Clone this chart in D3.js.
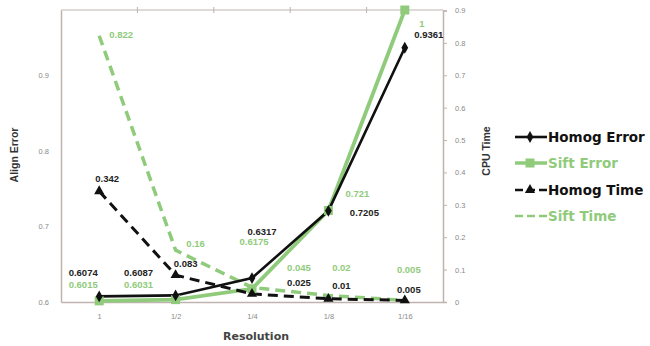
<!DOCTYPE html>
<html><head><meta charset="utf-8">
<script src="https://cdn.jsdelivr.net/npm/d3@7"></script>
<style>body{margin:0;background:#fff}svg{display:block}</style>
</head><body><svg id="c" width="650" height="346"></svg>
<script>
const categories = ["1","1/2","1/4","1/8","1/16"];
const homogError = [0.6074, 0.6087, 0.6317, 0.7205, 0.9361];
const siftError  = [0.6015, 0.6031, 0.6175, 0.721, 1];
const homogTime  = [0.342, 0.083, 0.025, 0.01, 0.005];
const siftTime   = [0.822, 0.16, 0.045, 0.02, 0.005];
const leftTicks  = [0.6, 0.7, 0.8, 0.9];
const rightTicks = [0, 0.1, 0.2, 0.3, 0.4, 0.5, 0.6, 0.7, 0.8, 0.9];
const seriesNames = ["Homog Error","Sift Error","Homog Time","Sift Time"];

const GREEN = "#8fcb7b", BLACK = "#111", AXIS = "#bfb3b0", TICKTXT = "#8a8a8a";
const svg = d3.select("#c");
const L = 61, R = 443, T = 10, B = 302;

const x = d3.scalePoint().domain(categories).range([L, R]).padding(0.5);
const yL = d3.scaleLinear().domain([0.6, 0.986]).range([B, T]).clamp(true);
const yR = d3.scaleLinear().domain([0, 0.9]).range([B, T + 0.5]);

// frame
svg.append("line").attr("x1",L).attr("x2",R).attr("y1",T).attr("y2",T).attr("stroke",AXIS).attr("stroke-width",1.2);
const step = x.step();
categories.slice(1).forEach((c)=>{
  const xx = x(c) - step/2;
  svg.append("line").attr("x1",xx).attr("x2",xx).attr("y1",T-3).attr("y2",T+3).attr("stroke",AXIS);
});

const tickFont = "Liberation Sans, Arial, sans-serif";
const gL = svg.append("g").attr("transform",`translate(${L},0)`)
  .call(d3.axisLeft(yL).tickValues(leftTicks).tickSize(0).tickPadding(12).tickFormat(d3.format(".1f")));
const gR = svg.append("g").attr("transform",`translate(${R},0)`)
  .call(d3.axisRight(yR).tickValues(rightTicks).tickSize(4).tickPadding(8).tickFormat(d=> d===0 ? "0" : d3.format(".1f")(d)));
const gB = svg.append("g").attr("transform",`translate(0,${B})`)
  .call(d3.axisBottom(x).tickSize(0).tickPadding(12));
[gL,gR,gB].forEach(g=>{
  g.select(".domain").attr("stroke",AXIS).attr("stroke-width",1.5);
  g.selectAll(".tick line").attr("stroke",AXIS);
  g.selectAll(".tick text").attr("fill",TICKTXT).attr("font-family",tickFont).attr("font-size",7.5);
});

const lineL = d3.line().x((d,i)=>x(categories[i])).y(d=>yL(d));
const lineR = d3.line().x((d,i)=>x(categories[i])).y(d=>yR(d));

svg.append("path").datum(siftTime).attr("d",lineR).attr("fill","none").attr("stroke",GREEN).attr("stroke-width",3.5).attr("stroke-dasharray","10,6");
svg.append("path").datum(siftError).attr("d",lineL).attr("fill","none").attr("stroke",GREEN).attr("stroke-width",3.8);
svg.append("path").datum(homogError).attr("d",lineL).attr("fill","none").attr("stroke",BLACK).attr("stroke-width",2.6);
svg.append("path").datum(homogTime).attr("d",lineR).attr("fill","none").attr("stroke",BLACK).attr("stroke-width",3).attr("stroke-dasharray","10,6");

svg.selectAll(".sq").data(siftError).enter().append("rect")
  .attr("x",(d,i)=>x(categories[i])-4.5).attr("y",d=>yL(d)-4.5).attr("width",9).attr("height",9).attr("fill",GREEN);
const diamond = d3.symbol().type(d3.symbolDiamond).size(40);
svg.selectAll(".dm").data(homogError).enter().append("path").attr("d",diamond)
  .attr("transform",(d,i)=>`translate(${x(categories[i])},${yL(d)})`).attr("fill",BLACK);
const tri = d3.symbol().type(d3.symbolTriangle).size(45);
svg.selectAll(".tr").data(homogTime).enter().append("path").attr("d",tri)
  .attr("transform",(d,i)=>`translate(${x(categories[i])},${yR(d)})`).attr("fill",BLACK);

// data labels (offsets relative to each point)
const lblFont = "Liberation Sans, Arial, sans-serif";
function labels(vals, scale, offs, color){
  svg.selectAll(null).data(vals).enter().append("text")
    .attr("x",(d,i)=>x(categories[i])+offs[i][0])
    .attr("y",(d,i)=>scale(d)+offs[i][1])
    .attr("text-anchor","middle").attr("dominant-baseline","central")
    .attr("font-family",lblFont).attr("font-size",9.5).attr("font-weight","bold")
    .attr("fill",color).text(d=>String(d));
}
labels(homogError, yL, [[-16,-24],[-37,-23],[10,-47],[36,2],[24,-13]], "#222");
labels(siftError, yL, [[-16,-16],[-37,-15],[2,-47],[29,-17],[17,13]], GREEN);
labels(homogTime, yR, [[8,-13],[10,-12],[47,-11],[13,-13],[4,-11]], "#222");
labels(siftTime, yR, [[22,-1],[20,-7],[47,-20],[13,-28],[4,-31]], GREEN);

// axis titles
svg.append("text").attr("transform","translate(18,155) rotate(-90)").attr("text-anchor","middle")
  .attr("font-family",lblFont).attr("font-size",10.5).attr("font-weight","bold").attr("fill","#333").text("Align Error");
svg.append("text").attr("transform","translate(490,151) rotate(-90)").attr("text-anchor","middle")
  .attr("font-family",lblFont).attr("font-size",10.5).attr("font-weight","bold").attr("fill","#333").text("CPU Time");
svg.append("text").attr("x",256).attr("y",340).attr("text-anchor","middle")
  .attr("font-family","DejaVu Sans, sans-serif").attr("font-size",11).attr("font-weight","bold").attr("fill","#444").text("Resolution");

// legend
const legY = [137,163,190,216];
const legColor = [BLACK, GREEN, BLACK, GREEN];
seriesNames.forEach((n,i)=>{
  const g = svg.append("g").attr("transform",`translate(0,${legY[i]})`);
  g.append("line").attr("x1",515).attr("x2",547).attr("y1",0).attr("y2",0)
    .attr("stroke",legColor[i]).attr("stroke-width",i===1?3.5:2.6)
    .attr("stroke-dasharray", i>=2 ? "8,4" : null);
  if(i===0) g.append("path").attr("d",diamond).attr("transform","translate(530,0)").attr("fill",BLACK);
  if(i===1) g.append("rect").attr("x",525.5).attr("y",-4.5).attr("width",9).attr("height",9).attr("fill",GREEN);
  if(i===2) g.append("path").attr("d",tri).attr("transform","translate(530,0)").attr("fill",BLACK);
  g.append("text").attr("x",548).attr("y",0).attr("dominant-baseline","central")
    .attr("font-family","DejaVu Sans, sans-serif").attr("font-size",13.5).attr("font-weight","bold")
    .attr("fill",legColor[i]===BLACK?"#111":GREEN).text(n);
});
</script></body></html>
